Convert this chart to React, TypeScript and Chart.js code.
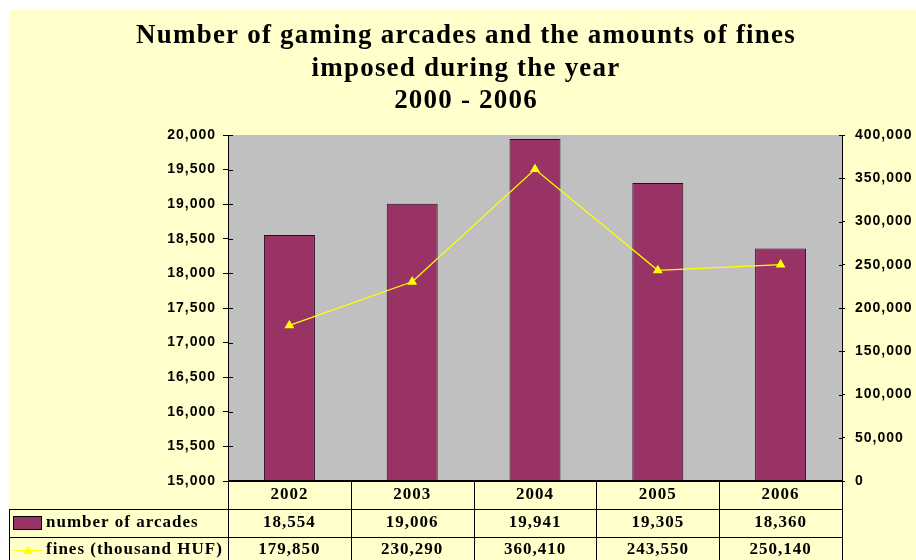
import React, { useEffect, useRef } from 'react';
import { Chart, registerables } from 'chart.js';

Chart.register(...registerables);

const years = ['2002', '2003', '2004', '2005', '2006'];
const arcades = [18554, 19006, 19941, 19305, 18360];
const fines = [179850, 230290, 360410, 243550, 250140];
const seriesLabels = ['number of arcades', 'fines (thousand HUF)'];
const titleLines = [
  'Number of gaming arcades and the amounts of fines',
  'imposed during the year',
  '2000 - 2006',
];
const leftMin = 15000;
const leftMax = 20000;
const leftStep = 500;
const rightMin = 0;
const rightMax = 400000;
const rightStep = 50000;

const fmt = (v: number) => Number(v).toLocaleString('en-US');

const W = 907;
const H = 550;
const BAR_COLOR = '#993366';
const LINE_COLOR = '#FFFF00';

const decorPlugin = {
  id: 'decor',
  beforeDraw(chart: any) {
    const { ctx, chartArea: a } = chart;
    ctx.save();
    ctx.fillStyle = '#FFFFCC';
    ctx.fillRect(0, 0, chart.width, chart.height);
    ctx.fillStyle = '#C0C0C0';
    ctx.fillRect(a.left, a.top, a.right - a.left, a.bottom - a.top);
    ctx.restore();
    ctx.letterSpacing = '1px';
  },
  beforeDatasetsDraw(chart: any) {
    const { ctx, chartArea: a } = chart;
    ctx.letterSpacing = '0px';
    // inner halves of the crossing tick marks
    ctx.save();
    ctx.strokeStyle = '#000';
    ctx.lineWidth = 1;
    const y = chart.scales.y;
    y.ticks.forEach((t: any) => {
      const py = Math.round(y.getPixelForValue(t.value)) + 0.5;
      ctx.beginPath();
      ctx.moveTo(a.left, py);
      ctx.lineTo(a.left + 5, py);
      ctx.stroke();
    });
    const y1 = chart.scales.y1;
    y1.ticks.forEach((t: any) => {
      const py = Math.round(y1.getPixelForValue(t.value)) + 0.5;
      ctx.beginPath();
      ctx.moveTo(a.right - 3, py);
      ctx.lineTo(a.right, py);
      ctx.stroke();
    });
    ctx.restore();
  },
  afterDraw(chart: any) {
    const { ctx, chartArea: a } = chart;
    const xs = chart.scales.x;
    ctx.save();

    // title
    ctx.fillStyle = '#000';
    ctx.textAlign = 'center';
    ctx.textBaseline = 'middle';
    ctx.font = 'bold 27px "Liberation Serif", "Times New Roman", serif';
    ctx.letterSpacing = '1.2px';
    const titleYs = [26, 59, 91];
    titleLines.forEach((line, i) => ctx.fillText(line, 457, titleYs[i]));

    // data table
    const n = years.length;
    const cw = (a.right - a.left) / n;
    const bounds: number[] = [];
    for (let i = 0; i <= n; i++) bounds.push(Math.round(xs.getPixelForValue(0) - cw / 2 + i * cw));
    const rowTop = a.bottom;
    const rows = [rowTop, rowTop + 28, rowTop + 56, H + 10];

    ctx.strokeStyle = '#000';
    ctx.lineWidth = 1;
    ctx.beginPath();
    ctx.moveTo(0, rows[1] + 0.5);
    ctx.lineTo(a.right, rows[1] + 0.5);
    ctx.moveTo(0, rows[2] + 0.5);
    ctx.lineTo(a.right, rows[2] + 0.5);
    bounds.forEach((bx) => {
      ctx.moveTo(bx + 0.5, rowTop);
      ctx.lineTo(bx + 0.5, H);
    });
    ctx.moveTo(0.5, rows[1]);
    ctx.lineTo(0.5, H);
    ctx.stroke();
    ctx.lineWidth = 2;
    ctx.beginPath();
    ctx.moveTo(a.left, rowTop);
    ctx.lineTo(a.right + 1, rowTop);
    ctx.stroke();

    ctx.font = 'bold 17px "Liberation Serif", "Times New Roman", serif';
    ctx.letterSpacing = '1px';
    ctx.fillStyle = '#000';
    ctx.textBaseline = 'middle';
    ctx.textAlign = 'center';
    const rowCenters = [rowTop + 14, rowTop + 42, rowTop + 69];
    years.forEach((yr, i) => {
      const cx = xs.getPixelForValue(i);
      ctx.fillText(yr, cx, rowCenters[0]);
      ctx.fillText(fmt(arcades[i]), cx, rowCenters[1]);
      ctx.fillText(fmt(fines[i]), cx, rowCenters[2]);
    });
    ctx.textAlign = 'left';
    ctx.fillText(seriesLabels[0], 37, rowCenters[1]);
    ctx.fillText(seriesLabels[1], 37, rowCenters[2]);

    // legend keys
    ctx.fillStyle = BAR_COLOR;
    ctx.fillRect(4, rowCenters[1] - 7, 29, 14);
    ctx.lineWidth = 1;
    ctx.strokeStyle = '#000';
    ctx.strokeRect(4.5, rowCenters[1] - 6.5, 28, 13);

    ctx.strokeStyle = LINE_COLOR;
    ctx.beginPath();
    ctx.moveTo(4, rowCenters[2] + 0.5);
    ctx.lineTo(33, rowCenters[2] + 0.5);
    ctx.stroke();
    ctx.fillStyle = LINE_COLOR;
    ctx.beginPath();
    ctx.moveTo(19, rowCenters[2] - 4);
    ctx.lineTo(23.5, rowCenters[2] + 4);
    ctx.lineTo(14.5, rowCenters[2] + 4);
    ctx.closePath();
    ctx.fill();

    ctx.restore();
    ctx.letterSpacing = '0px';
  },
};

export default function App() {
  const ref = useRef<HTMLCanvasElement>(null);

  useEffect(() => {
    document.body.style.margin = '0';
    document.body.style.overflow = 'hidden';
    if (!ref.current) return;
    const tickFont = { family: '"Liberation Sans", Arial, sans-serif', weight: 'bold' as const, size: 14 };
    const chart = new Chart(ref.current, {
      type: 'bar',
      data: {
        labels: years,
        datasets: [
          {
            type: 'line',
            label: seriesLabels[1],
            data: fines,
            yAxisID: 'y1',
            borderColor: LINE_COLOR,
            backgroundColor: LINE_COLOR,
            borderWidth: 1.2,
            pointStyle: 'triangle',
            pointRadius: 4.5,
            pointBackgroundColor: LINE_COLOR,
            pointBorderColor: LINE_COLOR,
            tension: 0,
            order: 0,
          } as any,
          {
            type: 'bar',
            label: seriesLabels[0],
            data: arcades,
            yAxisID: 'y',
            backgroundColor: BAR_COLOR,
            borderColor: '#2a0a1a',
            borderWidth: 1,
            categoryPercentage: 1,
            barPercentage: 0.415,
            order: 1,
          } as any,
        ],
      },
      options: {
        responsive: false,
        animation: false,
        devicePixelRatio: 1,
        layout: { padding: { top: 125, bottom: H - 471, left: 0, right: 0 } },
        plugins: {
          legend: { display: false },
          tooltip: { enabled: false },
          title: { display: false },
        },
        scales: {
          x: {
            display: false,
            offset: true,
          },
          y: {
            position: 'left',
            min: leftMin,
            max: leftMax,
            afterFit: (s: any) => {
              s.width = 219;
            },
            ticks: {
              stepSize: leftStep,
              color: '#000',
              font: tickFont,
              padding: 7,
              callback: (v: any) => fmt(Number(v)),
            },
            grid: { drawOnChartArea: false, color: '#000', tickLength: 5, tickWidth: 1 },
            border: { display: true, color: '#000', width: 1 },
          },
          y1: {
            position: 'right',
            min: rightMin,
            max: rightMax,
            afterFit: (s: any) => {
              s.width = W - 833;
            },
            ticks: {
              stepSize: rightStep,
              color: '#000',
              font: tickFont,
              padding: 10,
              callback: (v: any) => fmt(Number(v)),
            },
            grid: { drawOnChartArea: false, color: '#000', tickLength: 3, tickWidth: 1 },
            border: { display: true, color: '#000', width: 1 },
          },
        },
      } as any,
      plugins: [decorPlugin],
    });
    return () => chart.destroy();
  }, []);

  return (
    <div style={{ position: 'absolute', left: 9, top: 10, width: W, height: H, overflow: 'hidden' }}>
      <canvas ref={ref} width={W} height={H} style={{ display: 'block', width: W, height: H }} />
    </div>
  );
}
